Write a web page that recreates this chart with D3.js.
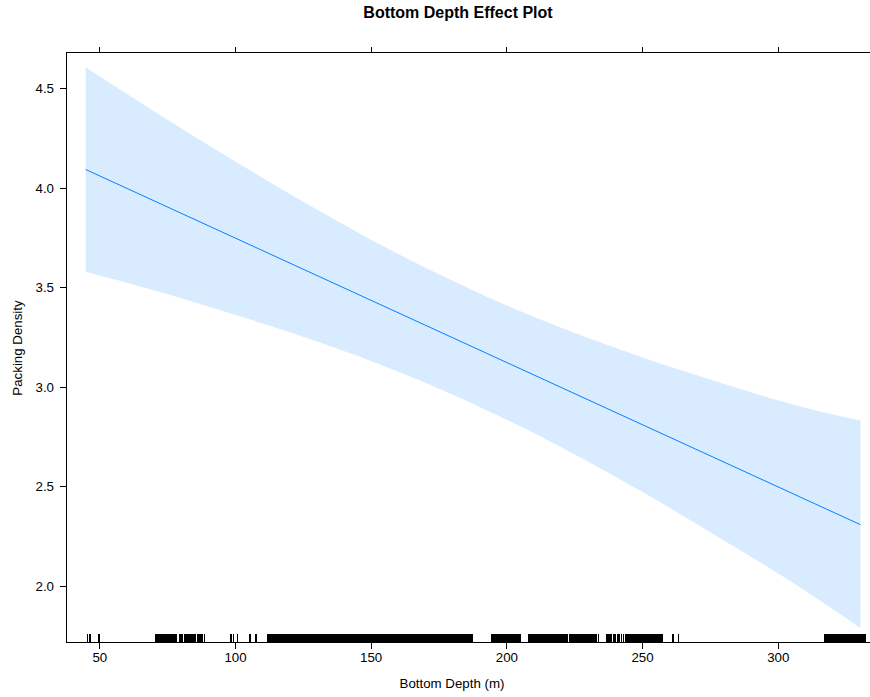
<!DOCTYPE html>
<html>
<head>
<meta charset="utf-8">
<script src="https://cdn.jsdelivr.net/npm/d3@7"></script>
<style>
  html, body { margin: 0; padding: 0; background: #fff; }
  svg { display: block; font-family: "Liberation Sans", Arial, Helvetica, sans-serif; }
</style>
</head>
<body>
<svg id="chart" width="870" height="697"></svg>
<script>
// ---- Data ----
const title = "Bottom Depth Effect Plot";
const xLabel = "Bottom Depth (m)";
const yLabel = "Packing Density";

const xTicks = [50, 100, 150, 200, 250, 300];
const yTicks = [2.0, 2.5, 3.0, 3.5, 4.0, 4.5];

// fitted effect line (straight)
const fitX = [45, 330.5];
const fitY = [4.092, 2.308];

// confidence band, read at common depths
const bandX     = [45,    70,    100,   130,   160,   190,   220,   250,   280,   310,   330.5];
const bandUpper = [4.606, 4.386, 4.133, 3.893, 3.669, 3.471, 3.298, 3.149, 3.016, 2.895, 2.831];
const bandLower = [3.577, 3.486, 3.363, 3.229, 3.077, 2.901, 2.698, 2.473, 2.230, 1.977, 1.788];

// rug of observed bottom depths
const rugValues = [
  45.6, 46.6, 49.9,
  70.8, 71.3, 71.8, 72.3, 72.8, 73.3, 73.8, 74.3, 74.8, 75.3, 75.8, 76.3, 76.8, 77.3, 77.8, 78.3,
  79.5, 80.1, 80.6, 81.4, 81.9, 82.7, 83.2, 83.8, 84.5, 85.1, 85.4, 86.2, 86.8, 87.3, 87.8, 88.7,
  98.5, 99.4, 101.0, 105.6, 107.8,
  112, 112.5, 113, 113.5, 114, 114.5, 115, 115.5, 116, 116.5, 117, 117.5, 118, 118.5, 119, 119.5,
  120, 120.5, 121, 121.5, 122, 122.5, 123, 123.5, 124, 124.5, 125, 125.5, 126, 126.5, 127, 127.5,
  128, 128.5, 129, 129.5, 130, 130.5, 131, 131.5, 132, 132.5, 133, 133.5, 134, 134.5, 135, 135.5,
  136, 136.5, 137, 137.5, 138, 138.5, 139, 139.5, 140, 140.5, 141, 141.5, 142, 142.5, 143, 143.5,
  144, 144.5, 145, 145.5, 146, 146.5, 147, 147.5, 148, 148.5, 149, 149.5, 150, 150.5, 151, 151.5,
  152, 152.5, 153, 153.5, 154, 154.5, 155, 155.5, 156, 156.5, 157, 157.5, 158, 158.5, 159, 159.5,
  160, 160.5, 161, 161.5, 162, 162.5, 163, 163.5, 164, 164.5, 165, 165.5, 166, 166.5, 167, 167.5,
  168, 168.5, 169, 169.5, 170, 170.5, 171, 171.5, 172, 172.5, 173, 173.5, 174, 174.5, 175, 175.5,
  176, 176.5, 177, 177.5, 178, 178.5, 179, 179.5, 180, 180.5, 181, 181.5, 182, 182.5, 183, 183.5,
  184, 184.5, 185, 185.5, 186, 186.5, 187, 187.5,
  194.7, 195.2, 195.7, 196.2, 196.7, 197.2, 197.7, 198.2, 198.7, 199.2, 199.7, 200.2, 200.7, 201.2,
  201.7, 202.5, 203.2, 203.7, 204.2, 204.7, 205.2,
  208.2, 208.7, 209.2, 209.7, 210.2, 210.7, 211.2, 211.7, 212.2, 212.7, 213.2, 213.7, 214.2, 214.7,
  215.2, 215.7, 216.2, 216.7, 217.2, 217.7, 218.2, 218.7, 219.4, 220.1, 220.6, 221.1, 221.6, 222.1,
  222.6, 223.3, 223.8, 224.3, 224.8, 225.3, 225.8, 226.3, 226.8, 227.3, 227.8, 228.3, 228.8, 229.3,
  229.8, 230.3, 230.8, 231.3, 231.8, 232.3, 232.8, 233.3, 233.9,
  237.1, 237.9, 238.6, 239.4, 240.1, 240.9, 241.6, 242.4, 243.1, 243.9, 244.5, 245.0, 245.5, 246.0,
  246.5, 247.0, 247.5, 248.0, 248.5, 249.0, 249.5, 250.0, 250.5, 251.0, 251.5, 252.0, 252.5, 253.0,
  253.5, 254.0, 254.6, 255.2, 255.8, 256.4, 257.0, 257.4,
  261.4, 263.5,
  317.2, 317.7, 318.2, 318.7, 319.2, 319.7, 320.2, 320.7, 321.2, 321.7, 322.2, 322.7, 323.2, 323.7,
  324.2, 324.7, 325.2, 325.7, 326.2, 326.7, 327.2, 327.7, 328.2, 328.7, 329.2, 329.7, 330.2, 330.7,
  331.2, 331.7, 332.2
];

// ---- Layout ----
const svg = d3.select("#chart");
const panel = { left: 66.5, right: 880, top: 52.5, bottom: 642.5 };

const x = d3.scaleLinear().domain([37.91, 337.69]).range([panel.left, panel.right]);
const y = d3.scaleLinear().domain([1.7162, 4.6798]).range([panel.bottom, panel.top]);

const lineColor = "#0080ff";
const bandColor = "#d9ecff";

// confidence band
svg.append("path")
  .datum(bandX.map((v, i) => ({ x: v, lo: bandLower[i], hi: bandUpper[i] })))
  .attr("d", d3.area()
    .curve(d3.curveMonotoneX)
    .x(d => x(d.x))
    .y0(d => y(d.lo))
    .y1(d => y(d.hi)))
  .attr("fill", bandColor)
  .attr("stroke", "none");

// fitted line
svg.append("path")
  .datum(fitX.map((v, i) => [v, fitY[i]]))
  .attr("d", d3.line().x(d => x(d[0])).y(d => y(d[1])))
  .attr("fill", "none")
  .attr("stroke", lineColor)
  .attr("stroke-width", 1);

// rug
svg.append("g").selectAll("line")
  .data(rugValues)
  .join("line")
  .attr("x1", d => x(d)).attr("x2", d => x(d))
  .attr("y1", panel.bottom - 9).attr("y2", panel.bottom)
  .attr("stroke", "#000")
  .attr("stroke-width", 1.5)
  .attr("shape-rendering", "crispEdges");

// frame
svg.append("rect")
  .attr("x", panel.left).attr("y", panel.top)
  .attr("width", panel.right - panel.left).attr("height", panel.bottom - panel.top)
  .attr("fill", "none").attr("stroke", "#000").attr("stroke-width", 1)
  .attr("shape-rendering", "crispEdges");

// axes
const fmtY = d3.format(".1f");
const bottomAxis = d3.axisBottom(x).tickValues(xTicks).tickSize(6).tickPadding(4).tickFormat(d3.format("d"));
const topAxis = d3.axisTop(x).tickValues(xTicks).tickSize(6).tickFormat("");
const leftAxis = d3.axisLeft(y).tickValues(yTicks).tickSize(6.5).tickPadding(6).tickFormat(fmtY);

function styleAxis(g) {
  g.select(".domain").remove();
  g.selectAll(".tick line").attr("stroke", "#000").attr("shape-rendering", "crispEdges");
  g.selectAll(".tick text")
    .attr("fill", "#000")
    .style("font-family", '"Liberation Sans", Arial, sans-serif')
    .style("font-size", "13.3px");
}

svg.append("g").attr("transform", `translate(0,${panel.bottom})`).call(bottomAxis).call(styleAxis);
svg.append("g").attr("transform", `translate(0,${panel.top})`).call(topAxis).call(styleAxis);
svg.append("g").attr("transform", `translate(${panel.left},0)`).call(leftAxis).call(styleAxis);

// title
svg.append("text")
  .attr("x", 458).attr("y", 18.3)
  .attr("text-anchor", "middle")
  .style("font-size", "16px").style("font-weight", "bold")
  .text(title);

// axis labels
svg.append("text")
  .attr("x", 452).attr("y", 688)
  .attr("text-anchor", "middle")
  .style("font-size", "13.3px")
  .text(xLabel);

svg.append("text")
  .attr("transform", "translate(21.5,348) rotate(-90)")
  .attr("text-anchor", "middle")
  .style("font-size", "13.3px")
  .text(yLabel);
</script>
</body>
</html>
